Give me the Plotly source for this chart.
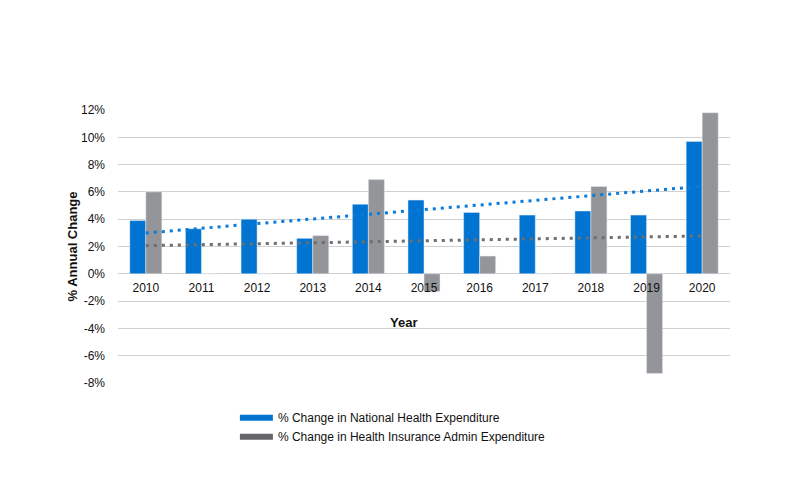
import numpy as np
import plotly.graph_objects as go

years = ["2010", "2011", "2012", "2013", "2014", "2015", "2016", "2017", "2018", "2019", "2020"]
nhe_change = [3.9, 3.3, 4.0, 2.6, 5.1, 5.4, 4.5, 4.3, 4.6, 4.3, 9.7]
admin_change = [6.0, 0.0, 0.0, 2.8, 6.9, -1.3, 1.3, 0.0, 6.4, -7.3, 11.8]
y_ticks = [-8, -6, -4, -2, 0, 2, 4, 6, 8, 10, 12]

name_nhe = "% Change in National Health Expenditure"
name_admin = "% Change in Health Insurance Admin Expenditure"

BLUE = "#0074D0"
GRAY_BAR = "#939598"
GRAY_DARK = "#646567"
BLUE_TREND = "#0A7BD8"
GRAY_TREND = "#6E6E6E"
FONT = "Liberation Sans, Arial, sans-serif"

idx = np.arange(len(years))
nhe_fit = np.polyval(np.polyfit(idx, nhe_change, 1), idx)
admin_fit = np.polyval(np.polyfit(idx, admin_change, 1), idx)

fig = go.Figure()
fig.add_trace(go.Bar(x=years, y=nhe_change, marker_color=BLUE, showlegend=False, name=name_nhe))
fig.add_trace(go.Bar(x=years, y=admin_change, marker_color=GRAY_BAR, showlegend=False, name=name_admin))
fig.add_trace(go.Scatter(x=years, y=nhe_fit, mode="lines",
                         line=dict(color=BLUE_TREND, width=3, dash="3px,5px"), showlegend=False))
fig.add_trace(go.Scatter(x=years, y=admin_fit, mode="lines",
                         line=dict(color=GRAY_TREND, width=3, dash="3px,5px"), showlegend=False))
# legend entries
fig.add_trace(go.Scatter(x=[None], y=[None], mode="lines", name=name_nhe,
                         line=dict(color=BLUE, width=6)))
fig.add_trace(go.Scatter(x=[None], y=[None], mode="lines", name=name_admin,
                         line=dict(color=GRAY_DARK, width=6)))

ymin, ymax = -8, 12
zero_pos = (0 - ymin) / (ymax - ymin)

fig.update_layout(
    width=793, height=493,
    margin=dict(l=110, r=71, t=102, b=118),
    paper_bgcolor="white", plot_bgcolor="white",
    font=dict(family=FONT, size=12, color="#111111"),
    barmode="group", bargap=0.424, bargroupgap=0,
    showlegend=True,
    legend=dict(x=0.191, y=-0.074, xanchor="left", yanchor="top",
                font=dict(size=12, color="#111111"), tracegroupgap=0,
                itemwidth=33, bgcolor="rgba(0,0,0,0)"),
    xaxis=dict(type="category", anchor="free", position=zero_pos,
               showgrid=False, showline=False, zeroline=False,
               ticks="", ticklabelstandoff=5, tickfont=dict(size=12, color="#111111")),
    yaxis=dict(range=[ymin, ymax], tickvals=y_ticks,
               ticktext=[f"{v}%" for v in y_ticks],
               showgrid=True, gridcolor="#D0D0D0", gridwidth=1,
               zeroline=True, zerolinecolor="#D0D0D0", zerolinewidth=1,
               showline=False, ticks="", ticklabelstandoff=12,
               tickfont=dict(size=12, color="#111111")),
    annotations=[
        dict(text="<b>Year</b>", xref="paper", yref="paper",
             x=(403 - 118) / 612, y=(383 - 322) / 273, xanchor="center", yanchor="middle",
             showarrow=False, font=dict(size=13, color="#111111")),
        dict(text="<b>% Annual Change</b>", xref="paper", yref="paper",
             x=(72 - 118) / 612, y=0.5, xanchor="center", yanchor="middle",
             textangle=-90, showarrow=False, font=dict(size=13, color="#111111")),
    ],
)

fig.write_html("out.html")
